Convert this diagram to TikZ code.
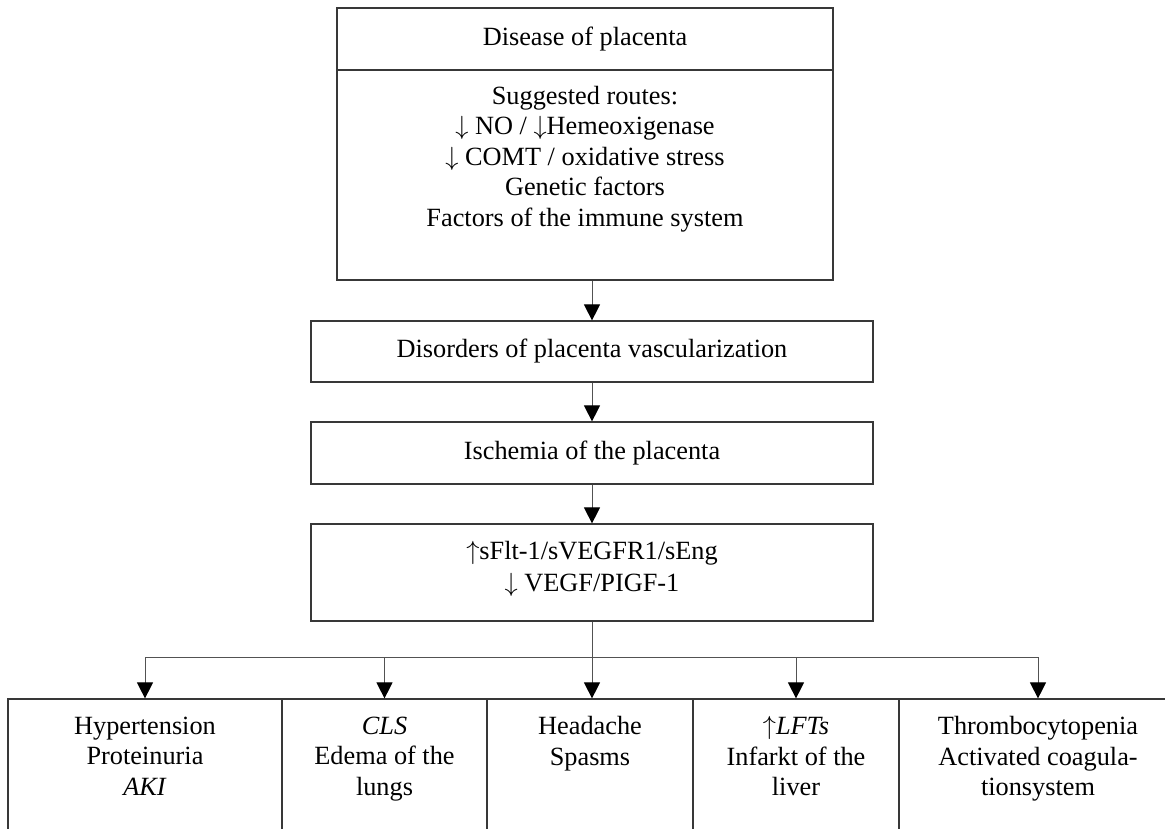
\documentclass[tikz,border=0pt]{standalone}
\usepackage{fix-cm}
\usepackage{fontspec}
\setmainfont{Liberation Serif}
\usetikzlibrary{arrows.meta}
\newcommand{\dn}{$\downarrow$}
\newcommand{\upa}{$\uparrow$}
\begin{document}
\begin{tikzpicture}[x=1pt,y=1pt,
  box/.style={draw=black!78, line width=1.2pt, rectangle, inner sep=0pt, align=center,
    font=\fontsize{26.3}{30.5}\selectfont},
  txt/.style={font=\fontsize{26.3}{30.5}\selectfont, align=center, inner sep=0pt},
  conn/.style={draw=black!68, line width=1pt, -{Triangle[length=16pt,width=16pt,fill=black,color=black]}},
  wire/.style={draw=black!68, line width=1pt}
]
\useasboundingbox (0,0) rectangle (1165,-828);
\clip (0,0) rectangle (1165,-828);

% top box
\node[box, minimum width=496pt, minimum height=62pt] (disease) at (585,-39) {Disease of placenta};
\node[box, minimum width=496pt, minimum height=210pt] (routes) at (585,-175) {};
\node[txt, anchor=north] (routestxt) at (585,-86) {Suggested routes:\\
  \dn{} NO / \dn{}Hemeoxigenase\\
  \dn{} COMT / oxidative stress\\
  Genetic factors\\
  Factors of the immune system};

% chain
\node[box, minimum width=562pt, minimum height=61pt] (disorders) at (592,-351.5) {Disorders of placenta vascularization};
\node[box, minimum width=562pt, minimum height=62pt] (ischemia) at (592,-453) {Ischemia of the placenta};
\node[box, minimum width=562pt, minimum height=97pt] (sflt) at (592,-572.5) {};
\node[txt, anchor=north] (sflttxt) at (592,-541) {\upa{}sFlt-1/sVEGFR1/sEng\\[2pt] \dn{} VEGF/PIGF-1};

% bottom row
\node[box, minimum width=274pt, minimum height=151pt] (o1) at (145,-774.5) {};
\node[box, minimum width=205pt, minimum height=151pt] (o2) at (384.5,-774.5) {};
\node[box, minimum width=206pt, minimum height=151pt] (o3) at (590,-774.5) {};
\node[box, minimum width=206pt, minimum height=151pt] (o4) at (796,-774.5) {};
\node[box, minimum width=278pt, minimum height=151pt] (o5) at (1038,-774.5) {};

\node[txt, anchor=north] (t1) at ([yshift=-18pt]o1.north) {Hypertension\\ Proteinuria\\ \textit{AKI}};
\node[txt, anchor=north] (t2) at ([yshift=-18pt]o2.north) {\textit{CLS}\\ Edema of the\\ lungs};
\node[txt, anchor=north] (t3) at ([yshift=-18pt]o3.north) {Headache\\ Spasms};
\node[txt, anchor=north] (t4) at ([yshift=-18pt]o4.north) {\upa\textit{LFTs}\\ Infarkt of the\\ liver};
\node[txt, anchor=north] (t5) at ([yshift=-18pt]o5.north) {Thrombocytopenia\\ Activated coagula-\\ tionsystem};

% connectors
\draw[conn] (disorders.north |- routes.south) -- (disorders.north);
\draw[conn] (disorders.south) -- (ischemia.north);
\draw[conn] (ischemia.south) -- (sflt.north);

\coordinate (bus) at (592,-657);
\draw[wire] (sflt.south) -- (bus);
\draw[wire] (o1.north |- bus) -- (o5.north |- bus);
\draw[conn] (o1.north |- bus) -- (o1.north);
\draw[conn] (o2.north |- bus) -- (o2.north);
\draw[conn] (bus) -- (bus |- o3.north);
\draw[conn] (o4.north |- bus) -- (o4.north);
\draw[conn] (o5.north |- bus) -- (o5.north);
\end{tikzpicture}
\end{document}
